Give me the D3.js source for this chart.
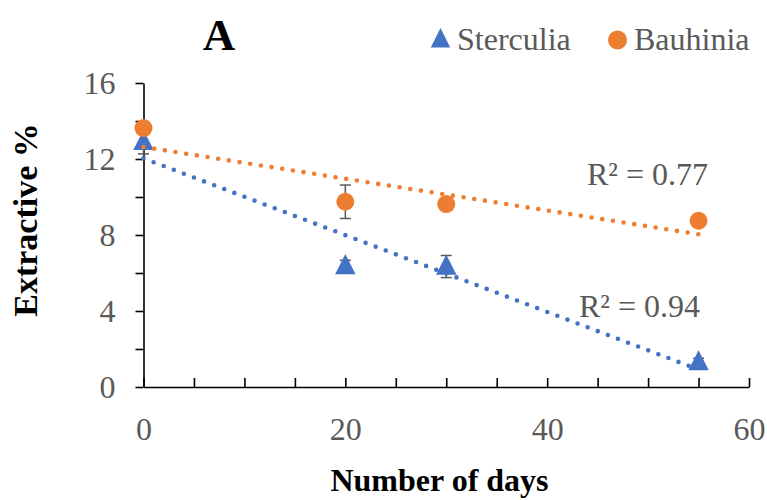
<!DOCTYPE html>
<html>
<head>
<meta charset="utf-8">
<script src="https://cdn.jsdelivr.net/npm/d3@7"></script>
<style>
  html, body { margin: 0; padding: 0; background: #fff; }
  svg { display: block; }
  text { font-family: "Liberation Serif", "Times New Roman", serif; }
</style>
</head>
<body>
<svg id="chart" width="767" height="500"></svg>
<script>
// ---- data ----
const days = [0, 20, 30, 55];
const sterculia = [12.9, 6.37, 6.34, 1.31];
const sterculiaErr = [0.63, 0.3, 0.58, 0.2];
const bauhinia = [13.63, 9.75, 9.63, 8.75];
const bauhiniaErr = [0.3, 0.88, 0.3, 0.3];
const seriesNames = ["Sterculia", "Bauhinia"];
const r2Labels = ["R² = 0.94", "R² = 0.77"];
const xMajorTicks = [0, 20, 40, 60];
const yMajorTicks = [0, 4, 8, 12, 16];
const titleText = "A";
const xTitle = "Number of days";
const yTitle = "Extractive %";

const BLUE = "#4472C4", ORANGE = "#ED7D31", GRAY = "#595959";

const svg = d3.select("#chart");
const x = d3.scaleLinear().domain([0, 60]).range([143.5, 749]);
const y = d3.scaleLinear().domain([0, 16]).range([387, 83]);

// ---- axes ----
const xAxis = d3.axisBottom(x)
  .tickValues(d3.range(0, 61, 5))
  .tickSizeInner(-9).tickSizeOuter(0)
  .tickFormat(d => xMajorTicks.includes(d) ? d : "");
const gx = svg.append("g").attr("transform", `translate(0,${y(0)})`).call(xAxis);
gx.select(".domain").attr("stroke", "#000").attr("stroke-width", 1.6);
gx.selectAll(".tick line").attr("stroke", "#000").attr("stroke-width", 1.6);
gx.selectAll(".tick text").attr("y", 53).attr("dy", 0)
  .attr("fill", GRAY).style("font-size", "32px").style("font-family", "Liberation Serif");

const yAxis = d3.axisLeft(y)
  .tickValues(d3.range(0, 17, 2))
  .tickSizeInner(8).tickSizeOuter(0)
  .tickFormat(d => yMajorTicks.includes(d) ? d : "");
const gy = svg.append("g").attr("transform", `translate(${x(0)},0)`).call(yAxis);
gy.select(".domain").attr("stroke", "#000").attr("stroke-width", 1.6);
gy.selectAll(".tick line").attr("stroke", "#000").attr("stroke-width", 1.6);
gy.selectAll(".tick text").attr("x", -28).attr("dy", "0.34em")
  .attr("fill", GRAY).style("font-size", "32px").style("font-family", "Liberation Serif");

// ---- series ----
const series = [
  { name: seriesNames[0], vals: sterculia, err: sterculiaErr, color: BLUE, shape: "tri" },
  { name: seriesNames[1], vals: bauhinia, err: bauhiniaErr, color: ORANGE, shape: "circ" }
];

function regress(xs, ys) {
  const mx = d3.mean(xs), my = d3.mean(ys);
  let sxy = 0, sxx = 0;
  xs.forEach((xi, i) => { sxy += (xi - mx) * (ys[i] - my); sxx += (xi - mx) ** 2; });
  const b = sxy / sxx;
  return { b, a: my - b * mx };
}

const triPath = d3.symbol().type(d3.symbolTriangle).size(150);

series.forEach(s => {
  const g = svg.append("g");
  // error bars
  days.forEach((d, i) => {
    const cx = x(d), y1 = y(s.vals[i] + s.err[i]), y2 = y(s.vals[i] - s.err[i]);
    g.append("line").attr("x1", cx).attr("x2", cx).attr("y1", y1).attr("y2", y2)
      .attr("stroke", GRAY).attr("stroke-width", 1.5);
    [y1, y2].forEach(yy => g.append("line").attr("x1", cx - 5.5).attr("x2", cx + 5.5)
      .attr("y1", yy).attr("y2", yy).attr("stroke", GRAY).attr("stroke-width", 1.5));
  });
  // markers
  days.forEach((d, i) => {
    if (s.shape === "tri") {
      g.append("path").attr("d", triPath())
        .attr("transform", `translate(${x(d)},${y(s.vals[i]) + 1.5}) scale(1.1,1.25)`)
        .attr("fill", s.color);
    } else {
      g.append("circle").attr("cx", x(d)).attr("cy", y(s.vals[i])).attr("r", 9)
        .attr("fill", s.color);
    }
  });
});

// trendlines (on top)
series.forEach(s => {
  const { a, b } = regress(days, s.vals);
  const x0 = d3.min(days), x1 = d3.max(days);
  svg.append("line")
    .attr("x1", x(x0)).attr("y1", y(a + b * x0))
    .attr("x2", x(x1)).attr("y2", y(a + b * x1))
    .attr("stroke", s.color).attr("stroke-width", 4.6)
    .attr("stroke-linecap", "round").attr("stroke-dasharray", "0 10.8");
});

// R² labels
svg.append("text").attr("x", 579).attr("y", 317).attr("fill", GRAY)
  .style("font-size", "32px").text(r2Labels[0]);
svg.append("text").attr("x", 587).attr("y", 185).attr("fill", GRAY)
  .style("font-size", "32px").text(r2Labels[1]);

// title
svg.append("text").attr("x", 219).attr("y", 50).attr("text-anchor", "middle")
  .style("font-size", "45px").style("font-weight", "bold").attr("fill", "#000").text(titleText);

// legend
svg.append("path").attr("d", triPath())
  .attr("transform", `translate(440.5,41) scale(1.05,1.2)`).attr("fill", BLUE);
svg.append("text").attr("x", 457).attr("y", 50).attr("fill", GRAY)
  .style("font-size", "32px").text(seriesNames[0]);
svg.append("circle").attr("cx", 617.5).attr("cy", 40).attr("r", 9.5).attr("fill", ORANGE);
svg.append("text").attr("x", 634).attr("y", 50).attr("fill", GRAY)
  .style("font-size", "32px").text(seriesNames[1]);

// axis titles
svg.append("text").attr("x", 439.5).attr("y", 491).attr("text-anchor", "middle")
  .style("font-size", "32px").style("font-weight", "bold").attr("fill", "#000").text(xTitle);
svg.append("text").attr("transform", "translate(37,220) rotate(-90)").attr("text-anchor", "middle")
  .style("font-size", "34px").style("font-weight", "bold").attr("fill", "#000").text(yTitle);
</script>
</body>
</html>
